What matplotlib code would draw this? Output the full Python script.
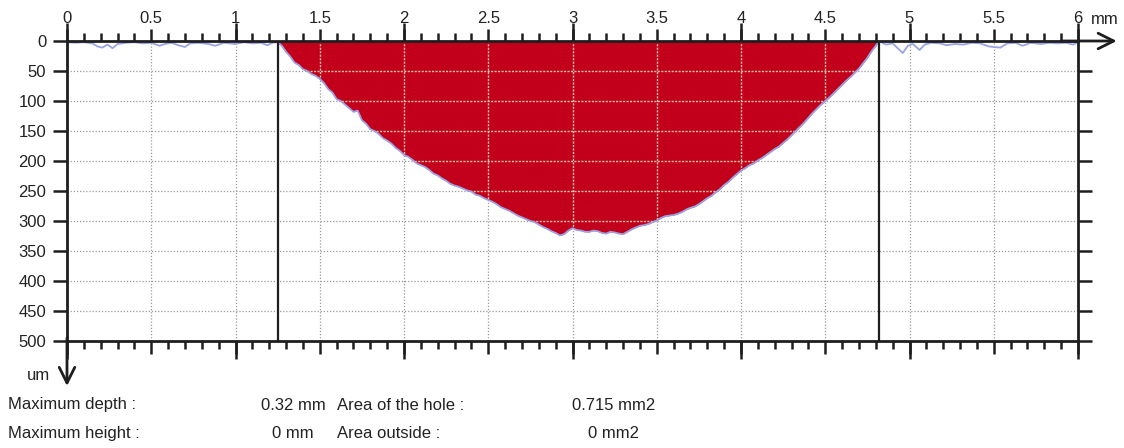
import matplotlib
matplotlib.use('Agg')
import matplotlib.pyplot as plt
from matplotlib.ticker import MultipleLocator, FixedLocator, NullFormatter

plt.rcParams['font.family'] = ['Liberation Sans', 'DejaVu Sans']

# ---------------- data (mm, um) ----------------
left_x = [0.00, 0.05, 0.10, 0.15, 0.18, 0.21, 0.24, 0.27, 0.30, 0.35, 0.40, 0.45, 0.50,
          0.55, 0.58, 0.62, 0.66, 0.70, 0.73, 0.78, 0.84, 0.88, 0.93, 1.00, 1.05,
          1.10, 1.15, 1.19, 1.22, 1.25]
left_depth = [2, 3, 2, 4, 9, 11, 6, 12, 5, 3, 2, 4, 3,
              8, 5, 3, 7, 10, 4, 3, 5, 8, 3, 5, 2,
              4, 3, 7, 3, 2]

# hole profile sampled every 0.025 mm from 1.25 to 4.80, then the right edge at 4.82
hole_start, hole_step = 1.25, 0.025
hole_depth = [0, 8, 18, 26, 36, 40, 47, 50, 55, 58,
              63, 70, 80, 86, 97, 100, 106, 112, 118, 116,
              132, 138, 147, 150, 155, 162, 166, 171, 178, 183,
              190, 193, 198, 204, 207, 210, 215, 221, 224, 229,
              233, 238, 241, 243, 246, 249, 251, 256, 258, 262,
              265, 268, 272, 277, 280, 283, 287, 291, 294, 297,
              300, 302, 306, 310, 313, 317, 320, 324, 322, 316,
              312, 315, 316, 318, 318, 316, 317, 320, 321, 318,
              319, 321, 322, 318, 314, 311, 308, 307, 305, 302,
              299, 295, 292, 291, 290, 288, 285, 281, 278, 276,
              272, 267, 262, 258, 252, 247, 240, 235, 228, 222,
              216, 212, 207, 204, 199, 195, 190, 185, 180, 176,
              170, 164, 157, 150, 143, 136, 128, 120, 113, 106,
              100, 94, 87, 80, 73, 66, 60, 53, 46, 37,
              28, 17, 8,
              0]
hole_right_edge = 4.82

right_x = [4.82, 4.86, 4.90, 4.93, 4.96, 4.99, 5.02, 5.06, 5.09, 5.13, 5.18, 5.22,
           5.27, 5.32, 5.37, 5.42, 5.47, 5.50, 5.54, 5.58, 5.63, 5.67, 5.72,
           5.78, 5.83, 5.88, 5.93, 5.97, 6.00]
right_depth = [0, 6, 4, 12, 20, 8, 5, 15, 6, 3, 4, 7,
               5, 6, 3, 4, 9, 10, 11, 4, 3, 8, 3,
               5, 3, 4, 3, 6, 2]

hole_edges = [1.25, 4.82]

x_major = [0, 0.5, 1, 1.5, 2, 2.5, 3, 3.5, 4, 4.5, 5, 5.5, 6]
x_labels = ['0', '0.5', '1', '1.5', '2', '2.5', '3', '3.5', '4', '4.5', '5', '5.5', '6']
x_integer = [0, 1, 2, 3, 4, 5, 6]
y_major = [0, 50, 100, 150, 200, 250, 300, 350, 400, 450, 500]
y_labels = ['0', '50', '100', '150', '200', '250', '300', '350', '400', '450', '500']

summary_labels = [['Maximum depth :', '0.32 mm', 'Area of the hole :', '0.715 mm2'],
                  ['Maximum height :', '0 mm', 'Area outside :', '0 mm2']]

hole_x = [round(hole_start + i * hole_step, 3) for i in range(len(hole_depth) - 1)] + [hole_right_edge]

# ---------------- styling ----------------
RED = '#c3001b'
BLUE = '#9aa3e4'
AXC = '#1e1e1e'
TXT = '#222222'
GRID = '#9a9a9a'
GRID_ON_RED = '#e6c9a6'
FS = 12

W, H = 1124, 448
fig = plt.figure(figsize=(W / 100, H / 100), dpi=100)
ax = fig.add_axes([67 / W, 1 - 341 / H, (1078 - 67) / W, (341 - 41) / H])
ax.set_xlim(0, 6)
ax.set_ylim(500, 0)

# grid under fill
for xv in x_major[1:-1]:
    ax.axvline(xv, color=GRID, lw=0.9, ls=(0, (1, 1.5)), zorder=1)
for yv in y_major[1:-1]:
    ax.axhline(yv, color=GRID, lw=0.9, ls=(0, (1, 1.5)), zorder=1)

# hole fill
poly = ax.fill_between(hole_x, 0, hole_depth, color=RED, lw=0, zorder=2)

# grid over fill (clipped to the hole)
for xv in x_major[1:-1]:
    ln = ax.axvline(xv, color=GRID_ON_RED, lw=1.0, ls=(0, (1.5, 1)), zorder=3)
    ln.set_clip_path(poly.get_paths()[0], ax.transData)
for yv in y_major[1:-1]:
    ln = ax.axhline(yv, color=GRID_ON_RED, lw=1.0, ls=(0, (1.5, 1)), zorder=3)
    ln.set_clip_path(poly.get_paths()[0], ax.transData)

# profile line
prof_x = left_x + hole_x[1:-1] + right_x
prof_d = left_depth + hole_depth[1:-1] + right_depth
ax.plot(prof_x, prof_d, color=BLUE, lw=1.3, zorder=4)

# hole boundaries
ax.vlines(hole_edges, 0, 500, color=AXC, lw=1.6, zorder=5)

# spines
for s in ax.spines.values():
    s.set_color(AXC)
    s.set_linewidth(2)
    s.set_zorder(6)

# x ticks: top labelled, bottom unlabelled
ax.xaxis.set_major_locator(FixedLocator(x_major))
ax.xaxis.set_minor_locator(MultipleLocator(0.1))
ax.set_xticklabels(x_labels)
ax.tick_params(axis='x', which='both', top=True, bottom=True, labeltop=True,
               labelbottom=False, direction='out', color=AXC, width=1.8)
ax.tick_params(axis='x', which='major', length=9, pad=2, labelsize=FS,
               labelcolor=TXT)
ax.tick_params(axis='x', which='minor', length=6)

# longer integer ticks
for loc in ['top', 'bottom']:
    sec = ax.secondary_xaxis(loc)
    sec.set_xticks(x_integer)
    sec.xaxis.set_major_formatter(NullFormatter())
    sec.tick_params(length=13, width=1.8, color=AXC, direction='out')
    for s in sec.spines.values():
        s.set_visible(False)

# y ticks (left labelled)
ax.set_yticks(y_major)
ax.set_yticklabels(y_labels)
ax.tick_params(axis='y', which='major', left=True, right=False, labelleft=True,
               labelright=False, direction='out', length=10, width=1.8,
               color=AXC, pad=5, labelsize=FS, labelcolor=TXT)

# right ticks (no tick at 0)
secy = ax.secondary_yaxis('right')
secy.set_yticks(y_major[1:])
secy.yaxis.set_major_formatter(NullFormatter())
secy.tick_params(length=10, width=1.8, color=AXC, direction='out')
for s in secy.spines.values():
    s.set_visible(False)

# axis arrows
ax.annotate('', xy=(6.23, 0), xytext=(5.9, 0),
            arrowprops=dict(arrowstyle='->', lw=2, color=AXC, mutation_scale=28,
                            shrinkA=0, shrinkB=0),
            annotation_clip=False, zorder=7)
ax.annotate('', xy=(0, 575), xytext=(0, 495),
            arrowprops=dict(arrowstyle='->', lw=2, color=AXC, mutation_scale=28,
                            shrinkA=0, shrinkB=0),
            annotation_clip=False, zorder=7)

# units
fig.text(1091 / W, 1 - 19 / H, 'mm', fontsize=FS, color=TXT, ha='left', va='center')
fig.text(27 / W, 1 - 375 / H, 'um', fontsize=FS, color=TXT, ha='left', va='center')

# summary text
rows_y = [405, 433]
for (lab1, val1, lab2, val2), yy in zip(summary_labels, rows_y):
    fy = 1 - yy / H
    fig.text(8 / W, fy, lab1, fontsize=FS, color=TXT, ha='left', va='center')
    fig.text(293 / W, fy, val1, fontsize=FS, color=TXT, ha='center', va='center')
    fig.text(337 / W, fy, lab2, fontsize=FS, color=TXT, ha='left', va='center')
    fig.text(614 / W, fy, val2, fontsize=FS, color=TXT, ha='center', va='center')

fig.savefig('out.png', dpi=100)
